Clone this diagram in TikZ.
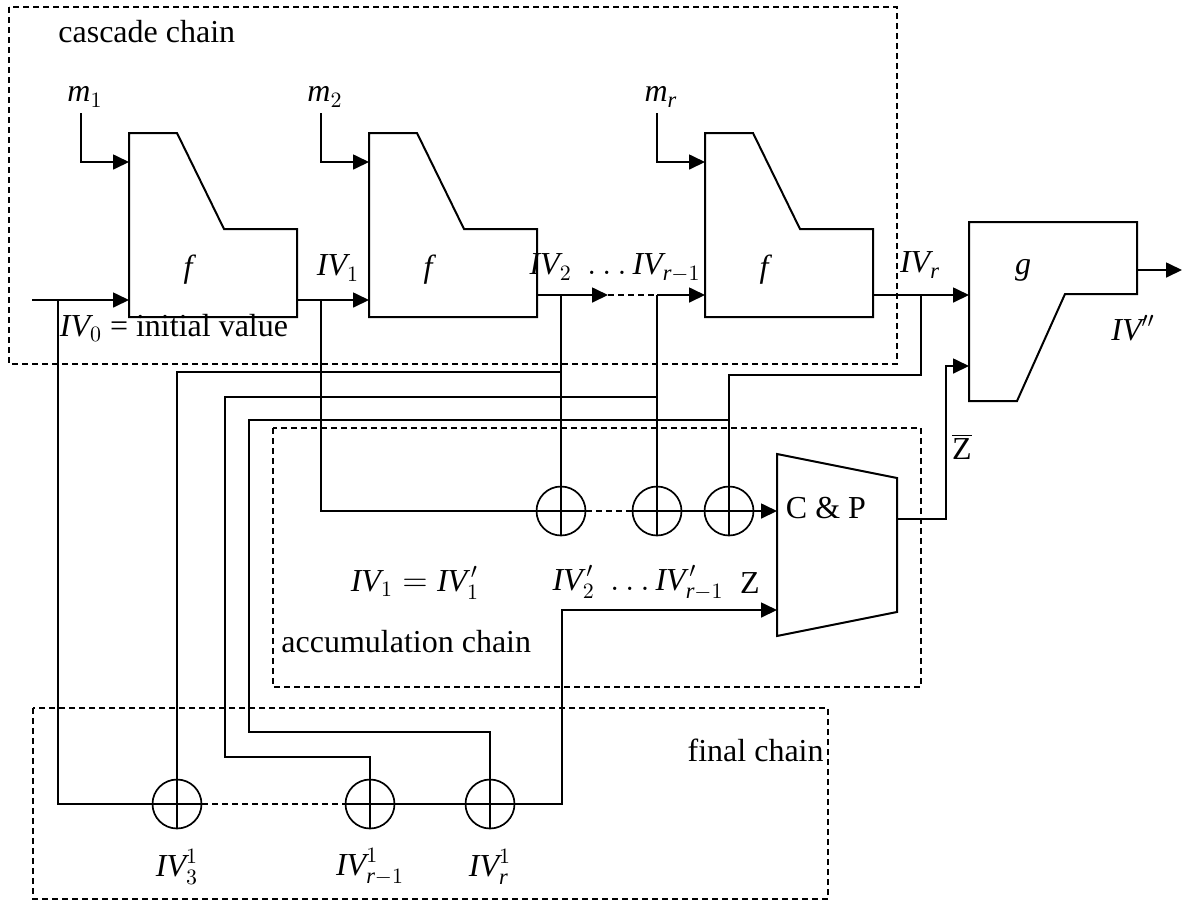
\documentclass[tikz,border=0pt]{standalone}
\usepackage{fontspec}
\setmainfont{Liberation Serif}
\usetikzlibrary{arrows.meta, positioning}

\newcommand{\ivtext}{\mathit{IV}}

\tikzset{
  wire/.style={line width=0.85pt},
  arr/.style={wire, -{Triangle[length=8pt,width=7.5pt]}},
  dotwire/.style={wire, dash pattern=on 3pt off 2pt},
  chainbox/.style={line width=0.8pt, dash pattern=on 3pt off 2pt},
  blk/.style={line width=1pt},
  xorgate/.style={circle, draw, line width=0.85pt, minimum size=24.5pt, inner sep=0pt,
    path picture={\draw[line width=0.85pt]
      (path picture bounding box.north) -- (path picture bounding box.south)
      (path picture bounding box.west) -- (path picture bounding box.east);}},
  lbl/.style={font=\fontsize{16}{19}\selectfont, inner sep=0pt},
}

\begin{document}
\begin{tikzpicture}[x=0.5pt, y=-0.5pt]
\useasboundingbox (0,0) rectangle (1182,901);

% chains
\draw[chainbox] (9,7) rectangle (897,364);
\draw[chainbox] (273,428) rectangle (921,687);
\draw[chainbox] (33,708) rectangle (828,899);
\node[lbl, anchor=west] (casc) at (58,32) {cascade chain};
\node[lbl, anchor=west] (accu) at (281,642) {accumulation chain};
\node[lbl, anchor=east] (fin) at (824,750) {final chain};

% compression blocks f
\foreach \L/\n/\s in {129/1/1, 369/2/2, 705/3/\mathit{r}}{
  \draw[blk] (\L,133) -- ++(48,0) -- ++(47,96) -- ++(73,0) -- ++(0,88) -- ++(-168,0) -- cycle;
  \node[lbl] (fl\n) at ({\L+61},270) {\textit{f}};
  \coordinate (f\n-m) at (\L,162);
  \coordinate (m\n-src) at ({\L-48},113);
  \node[lbl] (ml\n) at ({\L-44},97) {$\mathit{m}_{\s}$};
  \draw[arr] (m\n-src) |- (f\n-m);
}
\coordinate (f1-in) at (129,300);
\coordinate (f1-out) at (297,300);
\coordinate (f2-in) at (369,300);
\coordinate (f2-out) at (537,295);
\coordinate (f3-in) at (705,295);
\coordinate (f3-out) at (873,295);

% finalisation block g
\draw[blk] (969,222) -- (1137,222) -- (1137,294) -- (1065,294) -- (1017,401) -- (969,401) -- cycle;
\node[lbl] (gl) at (1023,270) {\textit{g}};
\coordinate (g-in1) at (969,295);
\coordinate (g-in2) at (969,366);
\coordinate (g-out) at (1137,270);
\coordinate (ivpp) at (1182,270);

% C & P block
\draw[blk] (777,454) -- (897,478) -- (897,612) -- (777,636) -- cycle;
\node[lbl] (cp) at (826,508) {C \& P};
\coordinate (cp-in1) at (777,511);
\coordinate (cp-in2) at (777,610);
\coordinate (cp-out) at (897,519);

% xor gates
\node[xorgate] (ax1) at (561,511) {};
\node[xorgate] (ax2) at (657,511) {};
\node[xorgate] (ax3) at (729,511) {};
\node[xorgate] (fx1) at (177,804) {};
\node[xorgate] (fx2) at (370,804) {};
\node[xorgate] (fx3) at (490,804) {};

% cascade chain
\coordinate (iv0) at (32,300);
\coordinate (dotsL) at (608,295);
\coordinate (dotsR) at (657,295);
\draw[arr] (iv0) -- (f1-in);
\draw[arr] (f1-out) -- (f2-in);
\draw[arr] (f2-out) -- (dotsL);
\draw[dotwire] (dotsL) -- (dotsR);
\draw[arr] (dotsR) -- (f3-in);
\draw[arr] (f3-out) -- (g-in1);
\draw[arr] (g-out) -- (ivpp);

% branches
\coordinate (br0) at (58,300);
\coordinate (br1) at (321,300);
\coordinate (br2) at (561,295);
\coordinate (br3) at (657,295);
\coordinate (brr) at (921,295);
\coordinate (t2) at (561,372);
\coordinate (t3) at (657,397);
\coordinate (t4) at (729,420);

% accumulation chain
\draw[wire] (br1) |- (ax1);
\draw[wire] (br2) -- (ax1);
\draw[wire] (br3) -- (ax2);
\draw[wire] (brr) -- ++(0,80) -| (ax3);
\draw[dotwire] (ax1) -- (ax2);
\draw[wire] (ax2) -- (ax3);
\draw[arr] (ax3) -- (cp-in1);
\draw[arr] (cp-out) -- (946,519) |- (g-in2);

% final chain
\draw[wire] (br0) |- (fx1);
\draw[wire] (t2) -| (fx1);
\draw[wire] (t3) -| (225,757) -| (fx2);
\draw[wire] (t4) -| (249,732) -| (fx3);
\draw[dotwire] (fx1) -- (fx2);
\draw[wire] (fx2) -- (fx3);
\draw[arr] (fx3) -- (562,804) |- (cp-in2);

% labels
\node[lbl] (l-iv0) at (174,328) {$\ivtext_{0}$ = initial value};
\node[lbl] (l-iv1) at (338,268) {$\ivtext_{1}$};
\node[lbl] (l-iv2) at (615,268) {$\ivtext_{2}\;\ldots\ivtext_{\mathit{r}-1}$};
\node[lbl] (l-ivr) at (920,265) {$\ivtext_{\mathit{r}}$};
\node[lbl] (l-ivpp) at (1133,328) {$\ivtext''$};
\node[lbl] (l-zbar) at (962,447) {$\overline{\mathrm{Z}}$};
\node[lbl] (l-acc1) at (415,583) {$\ivtext_{1} = \ivtext_{1}^{\,\prime}$};
\node[lbl] (l-acc2) at (638,583) {$\ivtext_{2}^{\,\prime}\;\ldots\ivtext_{\mathit{r}-1}^{\,\prime}$};
\node[lbl] (l-z) at (750,583) {Z};
\node[lbl] (l-fx1) at (177,867) {$\ivtext_{3}^{1}$};
\node[lbl] (l-fx2) at (370,867) {$\ivtext_{\mathit{r}-1}^{1}$};
\node[lbl] (l-fx3) at (490,867) {$\ivtext_{\mathit{r}}^{1}$};
\end{tikzpicture}
\end{document}
